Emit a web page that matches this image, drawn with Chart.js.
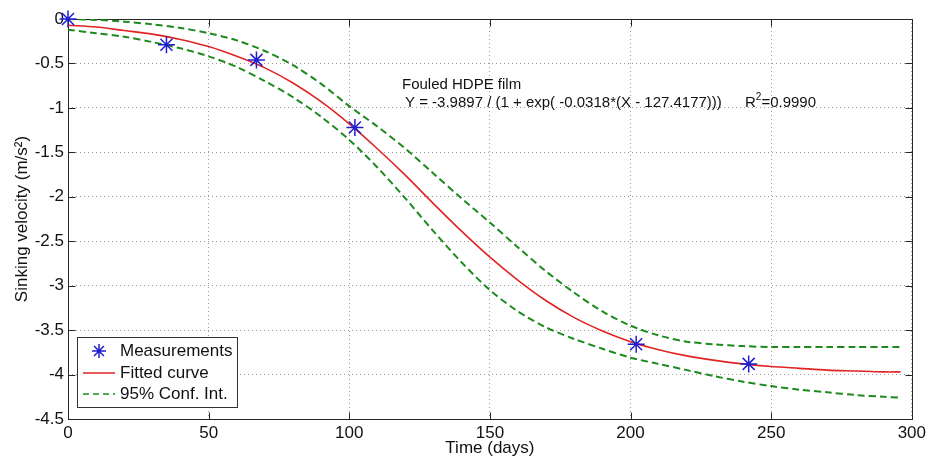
<!DOCTYPE html>
<html>
<head>
<meta charset="utf-8">
<script src="https://cdn.jsdelivr.net/npm/chart.js@4.4.0/dist/chart.umd.min.js"></script>
<style>
html,body{margin:0;padding:0;background:#fff;}
</style>
</head>
<body>
<canvas id="rel1" width="930" height="461"></canvas>
<script>
// values
var days = [0,10,20,30,40,50,60,70,80,90,100,110,120,130,140,150,160,170,180,190,200,210,220,230,240,250,260,270,280,290,296];
var fitted = [-0.07,-0.09,-0.13,-0.17,-0.23,-0.31,-0.42,-0.55,-0.72,-0.93,-1.18,-1.46,-1.76,-2.08,-2.39,-2.68,-2.94,-3.17,-3.36,-3.51,-3.63,-3.72,-3.79,-3.84,-3.88,-3.91,-3.93,-3.95,-3.96,-3.97,-3.97];
var upper_ci = [0.00,-0.01,-0.03,-0.06,-0.10,-0.16,-0.24,-0.36,-0.52,-0.73,-0.98,-1.21,-1.46,-1.74,-2.02,-2.29,-2.57,-2.84,-3.08,-3.29,-3.45,-3.56,-3.63,-3.66,-3.68,-3.69,-3.69,-3.69,-3.69,-3.69,-3.69];
var lower_ci = [-0.12,-0.16,-0.20,-0.26,-0.33,-0.42,-0.54,-0.70,-0.88,-1.10,-1.36,-1.67,-2.02,-2.39,-2.74,-3.05,-3.29,-3.47,-3.60,-3.71,-3.81,-3.88,-3.95,-4.02,-4.08,-4.13,-4.17,-4.20,-4.23,-4.25,-4.26];
var meas_days = [0,35,67,102,202,242];
var meas_vel = [0,-0.29,-0.46,-1.22,-3.66,-3.88];

var fontName = '"Liberation Sans", Arial, sans-serif';

function pts(xs, ys){
	var out = [];
	for (var i = 0; i < xs.length; i++) out.push({x:xs[i], y:ys[i]});
	return out;
}

var frame = {
	id:'frame',
	beforeDatasetsDraw:function(chart){
		var ctx = chart.ctx, a = chart.chartArea;
		var sx = chart.scales.x, sy = chart.scales.y;
		var l = Math.round(a.left)+0.5, r = Math.round(a.right)+0.5;
		var t = Math.round(a.top)+0.5, b = Math.round(a.bottom)+0.5;
		ctx.save();
		ctx.strokeStyle = '#262626';
		ctx.lineWidth = 1;
		ctx.strokeRect(l, t, r-l, b-t);
		ctx.beginPath();
		sx.ticks.forEach(function(tk){
			var p = Math.round(sx.getPixelForValue(tk.value))+0.5;
			ctx.moveTo(p, b); ctx.lineTo(p, b-7);
			ctx.moveTo(p, t); ctx.lineTo(p, t+7);
		});
		sy.ticks.forEach(function(tk){
			var p = Math.round(sy.getPixelForValue(tk.value))+0.5;
			ctx.moveTo(l, p); ctx.lineTo(l+7, p);
			ctx.moveTo(r, p); ctx.lineTo(r-7, p);
		});
		ctx.stroke();
		ctx.restore();
	},
	afterDraw:function(chart){
		var ctx = chart.ctx, a = chart.chartArea;
		ctx.save();
		// fit annotation
		ctx.fillStyle = '#111';
		ctx.font = '15px ' + fontName;
		ctx.textBaseline = 'middle';
		ctx.textAlign = 'left';
		ctx.fillText('Fouled HDPE film', a.left+334, 85);
		ctx.fillText('Y = -3.9897 / (1 + exp( -0.0318*(X - 127.4177)))', a.left+337, 103);
		ctx.fillText('R', a.left+677, 103);
		var rw = ctx.measureText('R').width;
		ctx.font = '10px ' + fontName;
		ctx.fillText('2', a.left+677+rw, 97);
		var sw = ctx.measureText('2').width;
		ctx.font = '15px ' + fontName;
		ctx.fillText('=0.9990', a.left+677+rw+sw, 103);

		// legend box
		var bx = a.left+9, by = 337, bw = 160, bh = 70;
		ctx.fillStyle = '#fff';
		ctx.fillRect(bx, by, bw, bh);
		ctx.strokeStyle = '#333';
		ctx.lineWidth = 1;
		ctx.strokeRect(bx+0.5, by+0.5, bw, bh);
		ctx.font = '17px ' + fontName;
		ctx.fillStyle = '#111';
		var rows = [351, 373, 394];
		ctx.fillText('Measurements', bx+43, rows[0]);
		ctx.fillText('Fitted curve', bx+43, rows[1]);
		ctx.fillText('95% Conf. Int.', bx+43, rows[2]);
		// star
		var cx = bx+22, cy = rows[0], rr = 7;
		ctx.strokeStyle = '#1f1fd0';
		ctx.lineWidth = 1.5;
		ctx.beginPath();
		for (var k = 0; k < 4; k++){
			var ang = k*Math.PI/4;
			ctx.moveTo(cx-rr*Math.cos(ang), cy-rr*Math.sin(ang));
			ctx.lineTo(cx+rr*Math.cos(ang), cy+rr*Math.sin(ang));
		}
		ctx.stroke();
		ctx.strokeStyle = '#e02424';
		ctx.lineWidth = 1.5;
		ctx.beginPath();
		ctx.moveTo(bx+6, rows[1]); ctx.lineTo(bx+38, rows[1]);
		ctx.stroke();
		ctx.strokeStyle = '#1e8a1e';
		ctx.setLineDash([6,4]);
		ctx.beginPath();
		ctx.moveTo(bx+6, rows[2]); ctx.lineTo(bx+38, rows[2]);
		ctx.stroke();
		ctx.restore();
	}
};

var rel1 = new Chart(document.getElementById('rel1'), {
	type:'scatter',
	data:{
		datasets:[{
			label:'Measurements',
			data:pts(meas_days, meas_vel),
			pointStyle:'star',
			pointRadius:8.5,
			pointBorderWidth:1.5,
			borderColor:'#1f1fd0',
			backgroundColor:'#1f1fd0',
			showLine:false,
			clip:false
		},
		{
			label:'Fitted curve',
			data:pts(days, fitted),
			showLine:true,
			pointRadius:0,
			borderColor:'#e02424',
			borderWidth:1.6,
			fill:false,
			tension:0.3
		},
		{
			label:'95% Conf. Int.',
			data:pts(days, upper_ci),
			showLine:true,
			pointRadius:0,
			borderColor:'#1e8a1e',
			borderWidth:2,
			borderDash:[7,4],
			fill:false,
			tension:0.3
		},
		{
			label:'95% Conf. Int. ',
			data:pts(days, lower_ci),
			showLine:true,
			pointRadius:0,
			borderColor:'#1e8a1e',
			borderWidth:2,
			borderDash:[7,4],
			fill:false,
			tension:0.3
		}]
	},
	options:{
		responsive:false,
		animation:false,
		devicePixelRatio:1,
		layout:{padding:{top:19, right:16, left:0, bottom:0}},
		plugins:{legend:{display:false}, tooltip:{enabled:false}},
		scales:{
			x:{
				type:'linear', min:0, max:300,
				afterFit:function(s){ s.height = 42; },
				ticks:{stepSize:50, color:'#111', padding:4, font:{family:fontName, size:17}},
				grid:{color:'#9a9a9a', drawTicks:false, lineWidth:1},
				border:{display:false, dash:[1,3]},
				title:{display:true, text:'Time (days)', color:'#111', font:{family:fontName, size:17}, padding:{top:0, bottom:2}}
			},
			y:{
				type:'linear', min:-4.5, max:0,
				afterFit:function(s){ s.width = 68; },
				ticks:{stepSize:0.5, color:'#111', padding:4, font:{family:fontName, size:17},
					callback:function(v){ return String(Math.round(v*10)/10); }},
				grid:{color:'#9a9a9a', drawTicks:false, lineWidth:1},
				border:{display:false, dash:[1,3]},
				title:{display:true, text:'Sinking velocity (m/s²)', color:'#111', font:{family:fontName, size:17}, padding:{top:12, bottom:0}}
			}
		}
	},
	plugins:[frame]
});
</script>
</body>
</html>
